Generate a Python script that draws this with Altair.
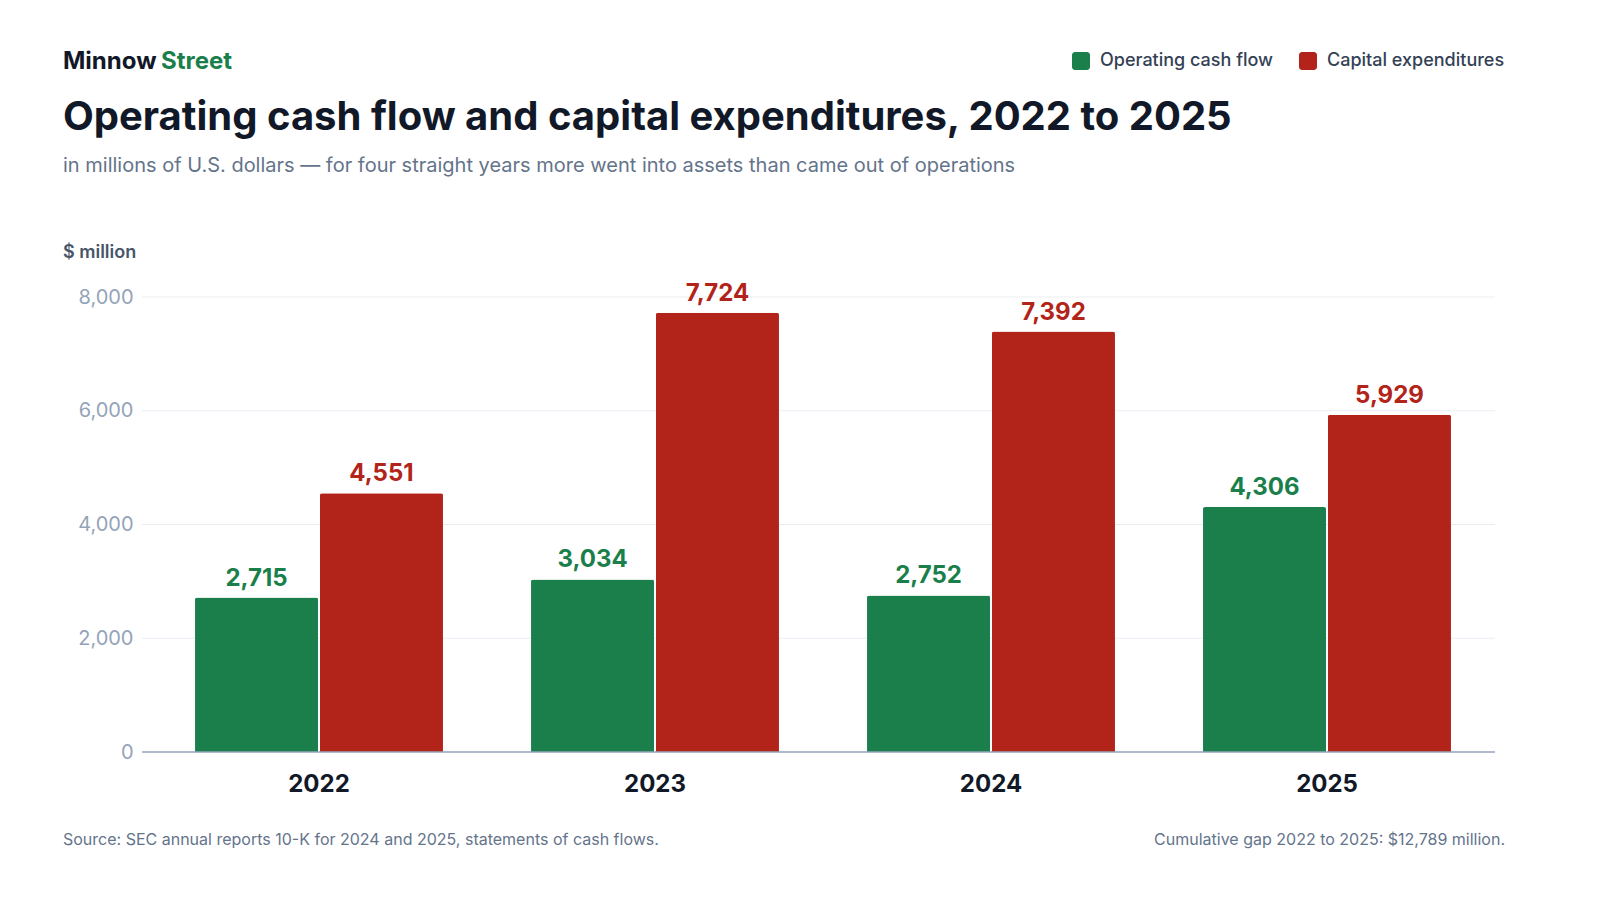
import altair as alt
import pandas as pd

years = ["2022", "2023", "2024", "2025"]
operating_cash_flow = [2715, 3034, 2752, 4306]
capital_expenditures = [4551, 7724, 7392, 5929]
series_names = ["Operating cash flow", "Capital expenditures"]
y_ticks = [0, 2000, 4000, 6000, 8000]

GREEN = "#1b7f4c"
RED = "#b22419"
FONT = "Inter"

rows = []
for i, yr in enumerate(years):
    rows.append({"year": yr, "series": series_names[0], "value": operating_cash_flow[i]})
    rows.append({"year": yr, "series": series_names[1], "value": capital_expenditures[i]})
df = pd.DataFrame(rows)

W, H = 1344, 455

color_scale = alt.Scale(domain=series_names, range=[GREEN, RED])
x_enc = alt.X("year:N", sort=years, title=None,
              scale=alt.Scale(paddingInner=0.262, paddingOuter=0.131),
              axis=alt.Axis(labelAngle=0, labelFont=FONT, labelFontSize=24, labelFontWeight="bold",
                            labelColor="#111827", labelPadding=20, domain=False, ticks=False))
xo_enc = alt.XOffset("series:N", sort=series_names, scale=alt.Scale(paddingInner=0.016))
y_enc = alt.Y("value:Q", scale=alt.Scale(domain=[0, 8000], nice=False), title=None,
              axis=alt.Axis(values=y_ticks, format=",d", labelFont=FONT, labelFontSize=20,
                            labelColor="#94a3b8", labelPadding=18, domain=False, ticks=False, grid=False))

grid = alt.Chart(pd.DataFrame({"v": y_ticks[1:]})).mark_rule(color="#e9edf2", strokeWidth=1.2).encode(
    y=alt.Y("v:Q"), x=alt.value(-9), x2=alt.value(W))

bars = alt.Chart(df).mark_bar(cornerRadiusTopLeft=2, cornerRadiusTopRight=2).encode(
    x=x_enc, xOffset=xo_enc, y=y_enc,
    color=alt.Color("series:N", scale=color_scale, legend=None))

labels = alt.Chart(df).mark_text(font=FONT, fontSize=24, fontWeight="bold", baseline="alphabetic", dy=-12).encode(
    x=alt.X("year:N", sort=years), xOffset=xo_enc, y=alt.Y("value:Q"),
    text=alt.Text("value:Q", format=",d"),
    color=alt.Color("series:N", scale=color_scale, legend=None))

zero = alt.Chart(pd.DataFrame({"v": [0]})).mark_rule(color="#94a3b8", strokeWidth=1.5).encode(
    y=alt.Y("v:Q"), x=alt.value(-9), x2=alt.value(W))


def txt(s, x, y, size, color, weight="normal", align="left", baseline="middle"):
    return alt.Chart(pd.DataFrame({"t": [s]})).mark_text(
        font=FONT, fontSize=size, fontWeight=weight, color=color, align=align, baseline=baseline
    ).encode(text="t:N", x=alt.value(x), y=alt.value(y))


def swatch(x, y, color):
    return alt.Chart(pd.DataFrame({"t": [0]})).mark_rect(color=color, cornerRadius=3).encode(
        x=alt.value(x), x2=alt.value(x + 18), y=alt.value(y - 9), y2=alt.value(y + 9))


brand1 = txt("Minnow", -88, -235, 24, "#111827", "bold")
brand2 = txt("Street", 10, -235, 24, GREEN, "bold")
title = txt("Operating cash flow and capital expenditures, 2022 to 2025", -88, -179, 40, "#111827", "bold")
subtitle = txt("in millions of U.S. dollars \u2014 for four straight years more went into assets than came out of operations",
               -88, -131, 20, "#64748b")
unit = txt("$ million", -88, -44, 18, "#475569", 600)
leg1 = swatch(921, -236, GREEN)
leg1t = txt("Operating cash flow", 949, -236, 18, "#334155", 500)
leg2 = swatch(1148, -236, RED)
leg2t = txt("Capital expenditures", 1176, -236, 18, "#334155", 500)
foot1 = txt("Source: SEC annual reports 10-K for 2024 and 2025, statements of cash flows.", -88, 543, 16, "#64748b")
foot2 = txt("Cumulative gap 2022 to 2025: $12,789 million.", 1354, 543, 16, "#64748b", align="right")

chart = alt.layer(
    grid, bars, zero, labels,
    brand1, brand2, title, subtitle, unit, leg1, leg1t, leg2, leg2t, foot1, foot2
).properties(
    width=W, height=H,
    padding={"left": 143, "top": 289, "right": 20, "bottom": 105},
    autosize=alt.AutoSizeParams(type="none"),
    background="white",
).configure_view(stroke=None)

chart.save("out.html", embed_options={"renderer": "svg", "actions": False})
